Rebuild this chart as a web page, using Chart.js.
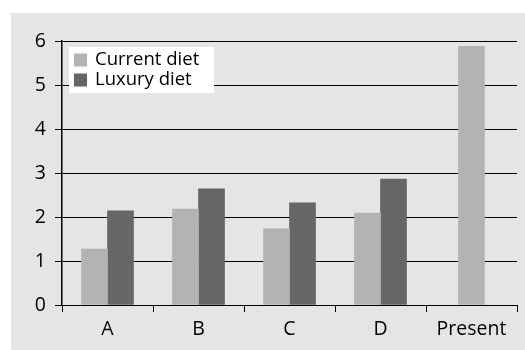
<!DOCTYPE html>
<html>
<head>
<meta charset="utf-8">
<script src="https://cdn.jsdelivr.net/npm/chart.js@4/dist/chart.umd.min.js"></script>
<style>
  html, body { margin: 0; padding: 0; background: #ffffff; }
  #panel { position: absolute; left: 11px; top: 13px; width: 514px; height: 337px; background: #e5e5e5; }
  canvas { display: block; }
</style>
</head>
<body>
<div id="panel"><canvas id="chart" width="514" height="337"></canvas></div>
<script>
const categories = ['A', 'B', 'C', 'D', 'Present'];
const currentDiet = [1.27, 2.18, 1.73, 2.09, 5.88];
const luxuryDiet = [2.14, 2.64, 2.32, 2.86, null];
const yTicks = [0, 1, 2, 3, 4, 5, 6];

const FONT = '"Open Sans", "DejaVu Sans", sans-serif';

// Legend drawn inside the plot area, top-left, on a white box
const insideLegend = {
  id: 'insideLegend',
  afterDraw(chart) {
    const ctx = chart.ctx;
    const area = chart.chartArea;
    const x = area.left + 7, y = area.top + 6;
    const w = 145, h = 46;
    ctx.save();
    ctx.fillStyle = '#ffffff';
    ctx.fillRect(x, y, w, h);
    ctx.font = '18.5px ' + FONT;
    ctx.textBaseline = 'middle';
    chart.data.datasets.forEach((ds, i) => {
      const rowY = y + 13 + i * 20;
      ctx.fillStyle = ds.backgroundColor;
      ctx.fillRect(x + 5, rowY - 6.5, 13, 13);
      ctx.fillStyle = '#000000';
      ctx.fillText(ds.label, x + 26, rowY);
    });
    ctx.restore();
  }
};

new Chart(document.getElementById('chart'), {
  type: 'bar',
  data: {
    labels: categories,
    datasets: [
      { label: 'Current diet', data: currentDiet, backgroundColor: '#b3b3b3' },
      { label: 'Luxury diet', data: luxuryDiet, backgroundColor: '#666666' }
    ]
  },
  options: {
    responsive: false,
    animation: false,
    devicePixelRatio: 1,
    layout: { padding: { top: 28, right: 8, left: 0, bottom: 0 } },
    datasets: { bar: { barThickness: 26, skipNull: true } },
    plugins: { legend: { display: false }, tooltip: { enabled: false } },
    scales: {
      x: {
        offset: true,
        grid: { offset: true, drawOnChartArea: false, drawTicks: true, tickLength: 7, color: '#000000', lineWidth: 1 },
        border: { display: true, color: '#000000', width: 1 },
        ticks: { color: '#000000', font: { family: FONT, size: 19.5 }, padding: 6, maxRotation: 0 },
        afterFit(scale) { scale.height = 45; }
      },
      y: {
        min: 0,
        max: 6,
        afterBuildTicks(scale) { scale.ticks = yTicks.map(v => ({ value: v })); },
        grid: { color: '#000000', lineWidth: 1, drawTicks: true, tickLength: 7 },
        border: { display: true, color: '#000000', width: 1.5 },
        ticks: { color: '#000000', font: { family: FONT, size: 19.5 }, padding: 9 },
        afterFit(scale) { scale.width = 51; }
      }
    }
  },
  plugins: [insideLegend]
});
</script>
</body>
</html>
